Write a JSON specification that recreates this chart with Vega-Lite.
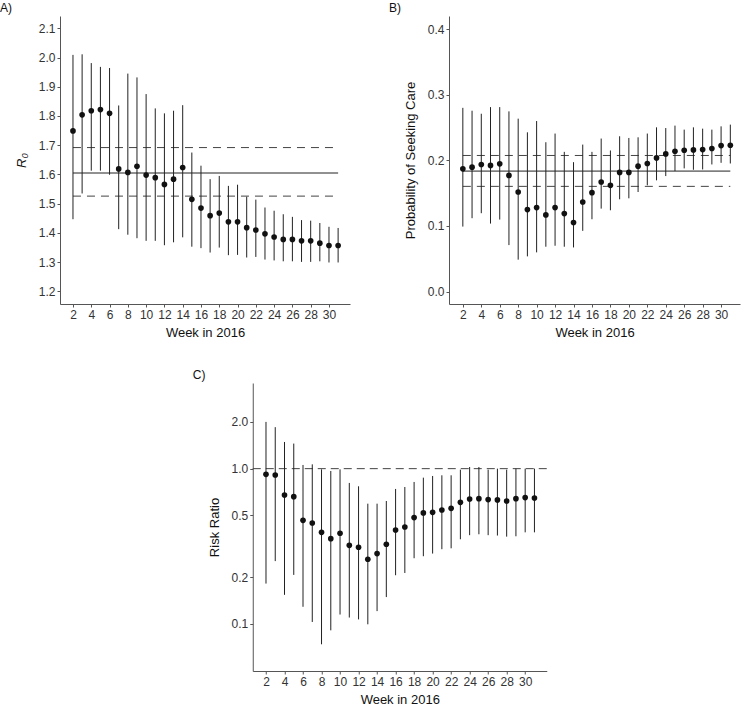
{
  "$schema": "https://vega.github.io/schema/vega-lite/v6.json",
  "padding": {"left": 0, "top": 2, "right": 2, "bottom": 2},
  "center": true,
  "spacing": 30,
  "datasets": {
    "a": [
      {"week": 2, "est": 1.749, "lo": 1.447, "hi": 2.009},
      {"week": 3, "est": 1.804, "lo": 1.535, "hi": 2.011},
      {"week": 4, "est": 1.818, "lo": 1.613, "hi": 1.981},
      {"week": 5, "est": 1.822, "lo": 1.613, "hi": 1.968},
      {"week": 6, "est": 1.809, "lo": 1.599, "hi": 1.964},
      {"week": 7, "est": 1.619, "lo": 1.413, "hi": 1.836},
      {"week": 8, "est": 1.607, "lo": 1.394, "hi": 1.945},
      {"week": 9, "est": 1.628, "lo": 1.382, "hi": 1.932},
      {"week": 10, "est": 1.598, "lo": 1.373, "hi": 1.875},
      {"week": 11, "est": 1.589, "lo": 1.373, "hi": 1.826},
      {"week": 12, "est": 1.566, "lo": 1.358, "hi": 1.809},
      {"week": 13, "est": 1.584, "lo": 1.368, "hi": 1.818},
      {"week": 14, "est": 1.624, "lo": 1.385, "hi": 1.837},
      {"week": 15, "est": 1.515, "lo": 1.353, "hi": 1.675},
      {"week": 16, "est": 1.485, "lo": 1.348, "hi": 1.630},
      {"week": 17, "est": 1.459, "lo": 1.333, "hi": 1.584},
      {"week": 18, "est": 1.468, "lo": 1.350, "hi": 1.595},
      {"week": 19, "est": 1.438, "lo": 1.324, "hi": 1.561},
      {"week": 20, "est": 1.438, "lo": 1.325, "hi": 1.565},
      {"week": 21, "est": 1.418, "lo": 1.316, "hi": 1.524},
      {"week": 22, "est": 1.410, "lo": 1.318, "hi": 1.514},
      {"week": 23, "est": 1.397, "lo": 1.309, "hi": 1.487},
      {"week": 24, "est": 1.386, "lo": 1.306, "hi": 1.476},
      {"week": 25, "est": 1.378, "lo": 1.303, "hi": 1.464},
      {"week": 26, "est": 1.378, "lo": 1.303, "hi": 1.455},
      {"week": 27, "est": 1.373, "lo": 1.301, "hi": 1.444},
      {"week": 28, "est": 1.373, "lo": 1.301, "hi": 1.442},
      {"week": 29, "est": 1.365, "lo": 1.303, "hi": 1.434},
      {"week": 30, "est": 1.357, "lo": 1.299, "hi": 1.421},
      {"week": 31, "est": 1.357, "lo": 1.299, "hi": 1.417}
    ],
    "aMean": [{"level": 1.605, "from": 2, "to": 31}],
    "aCI": [{"level": 1.692, "from": 2, "to": 31}, {"level": 1.526, "from": 2, "to": 31}],
    "b": [
      {"week": 2, "est": 0.187, "lo": 0.099, "hi": 0.280},
      {"week": 3, "est": 0.1896, "lo": 0.1118, "hi": 0.2756},
      {"week": 4, "est": 0.1937, "lo": 0.1194, "hi": 0.271},
      {"week": 5, "est": 0.1922, "lo": 0.1036, "hi": 0.2811},
      {"week": 6, "est": 0.1947, "lo": 0.1097, "hi": 0.2811},
      {"week": 7, "est": 0.177, "lo": 0.0708, "hi": 0.2746},
      {"week": 8, "est": 0.1517, "lo": 0.0486, "hi": 0.2635},
      {"week": 9, "est": 0.1249, "lo": 0.0536, "hi": 0.2427},
      {"week": 10, "est": 0.128, "lo": 0.0597, "hi": 0.2599},
      {"week": 11, "est": 0.1168, "lo": 0.0683, "hi": 0.2276},
      {"week": 12, "est": 0.128, "lo": 0.0698, "hi": 0.2408},
      {"week": 13, "est": 0.1188, "lo": 0.0683, "hi": 0.2129},
      {"week": 14, "est": 0.1052, "lo": 0.0672, "hi": 0.1972},
      {"week": 15, "est": 0.1365, "lo": 0.0925, "hi": 0.224},
      {"week": 16, "est": 0.1507, "lo": 0.1102, "hi": 0.2129},
      {"week": 17, "est": 0.1669, "lo": 0.1264, "hi": 0.2332},
      {"week": 18, "est": 0.1619, "lo": 0.1239, "hi": 0.215},
      {"week": 19, "est": 0.1816, "lo": 0.1406, "hi": 0.2367},
      {"week": 20, "est": 0.1816, "lo": 0.1421, "hi": 0.2341},
      {"week": 21, "est": 0.1911, "lo": 0.1517, "hi": 0.2351},
      {"week": 22, "est": 0.1952, "lo": 0.1619, "hi": 0.2408},
      {"week": 23, "est": 0.2037, "lo": 0.1695, "hi": 0.2503},
      {"week": 24, "est": 0.2098, "lo": 0.176, "hi": 0.2492},
      {"week": 25, "est": 0.2139, "lo": 0.1836, "hi": 0.2529},
      {"week": 26, "est": 0.2154, "lo": 0.1877, "hi": 0.2468},
      {"week": 27, "est": 0.2159, "lo": 0.1856, "hi": 0.2503},
      {"week": 28, "est": 0.2164, "lo": 0.1861, "hi": 0.2483},
      {"week": 29, "est": 0.218, "lo": 0.1937, "hi": 0.2468},
      {"week": 30, "est": 0.2225, "lo": 0.1962, "hi": 0.2518},
      {"week": 31, "est": 0.223, "lo": 0.1952, "hi": 0.2544}
    ],
    "bMean": [{"level": 0.1836, "from": 2, "to": 31}],
    "bCI": [{"level": 0.2074, "from": 2, "to": 31}, {"level": 0.1603, "from": 2, "to": 31}],
    "c": [
      {"week": 2, "est": 0.919, "lo": 0.182, "hi": 2.0},
      {"week": 3, "est": 0.910, "lo": 0.254, "hi": 1.85},
      {"week": 4, "est": 0.677, "lo": 0.154, "hi": 1.485},
      {"week": 5, "est": 0.660, "lo": 0.207, "hi": 1.45},
      {"week": 6, "est": 0.465, "lo": 0.129, "hi": 1.056},
      {"week": 7, "est": 0.447, "lo": 0.103, "hi": 1.066},
      {"week": 8, "est": 0.389, "lo": 0.074, "hi": 0.99},
      {"week": 9, "est": 0.354, "lo": 0.091, "hi": 0.966},
      {"week": 10, "est": 0.384, "lo": 0.115, "hi": 0.99},
      {"week": 11, "est": 0.321, "lo": 0.110, "hi": 0.809},
      {"week": 12, "est": 0.312, "lo": 0.107, "hi": 0.77},
      {"week": 13, "est": 0.261, "lo": 0.0995, "hi": 0.595},
      {"week": 14, "est": 0.284, "lo": 0.121, "hi": 0.595},
      {"week": 15, "est": 0.326, "lo": 0.149, "hi": 0.619},
      {"week": 16, "est": 0.403, "lo": 0.206, "hi": 0.74},
      {"week": 17, "est": 0.421, "lo": 0.213, "hi": 0.762},
      {"week": 18, "est": 0.484, "lo": 0.265, "hi": 0.821},
      {"week": 19, "est": 0.519, "lo": 0.273, "hi": 0.875},
      {"week": 20, "est": 0.523, "lo": 0.284, "hi": 0.897},
      {"week": 21, "est": 0.542, "lo": 0.303, "hi": 0.906},
      {"week": 22, "est": 0.555, "lo": 0.307, "hi": 0.906},
      {"week": 23, "est": 0.607, "lo": 0.351, "hi": 0.985},
      {"week": 24, "est": 0.638, "lo": 0.373, "hi": 1.025},
      {"week": 25, "est": 0.641, "lo": 0.378, "hi": 1.025},
      {"week": 26, "est": 0.632, "lo": 0.373, "hi": 0.985},
      {"week": 27, "est": 0.629, "lo": 0.371, "hi": 1.0},
      {"week": 28, "est": 0.619, "lo": 0.365, "hi": 0.985},
      {"week": 29, "est": 0.641, "lo": 0.367, "hi": 1.0},
      {"week": 30, "est": 0.651, "lo": 0.389, "hi": 1.0},
      {"week": 31, "est": 0.647, "lo": 0.389, "hi": 1.0}
    ],
    "cRef": [{"level": 1.0}]
  },
  "vconcat": [
    {
      "hconcat": [
        {
          "width": 290,
          "height": 288,
          "title": {"text": "A)", "anchor": "start", "frame": "group", "dx": -60, "fontSize": 12, "fontWeight": "normal", "offset": 1, "color": "#111"},
          "layer": [
            {
              "data": {"name": "aMean"},
              "mark": {"type": "rule", "color": "#222", "strokeWidth": 1},
              "encoding": {
                "x": {"field": "from", "type": "quantitative"},
                "x2": {"field": "to"},
                "y": {"field": "level", "type": "quantitative"}
              }
            },
            {
              "data": {"name": "aCI"},
              "mark": {"type": "rule", "color": "#444", "strokeWidth": 1, "strokeDash": [8, 6]},
              "encoding": {
                "x": {"field": "from", "type": "quantitative"},
                "x2": {"field": "to"},
                "y": {"field": "level", "type": "quantitative"}
              }
            },
            {
              "data": {"name": "a"},
              "mark": {"type": "rule", "color": "#222", "strokeWidth": 1},
              "encoding": {
                "x": {"field": "week", "type": "quantitative"},
                "y": {"field": "lo", "type": "quantitative"},
                "y2": {"field": "hi"}
              }
            },
            {
              "data": {"name": "a"},
              "mark": {"type": "circle", "color": "#111", "opacity": 1, "size": 32},
              "encoding": {
                "x": {"field": "week", "type": "quantitative", "scale": {"domain": [0.58, 32.3], "nice": false, "zero": false},
                  "axis": {"title": "Week in 2016", "format": "d", "tickCount": 100, "labelOverlap": false, "labelFlush": false, "values": [2,4,6,8,10,12,14,16,18,20,22,24,26,28,30]}},
                "y": {"field": "est", "type": "quantitative", "scale": {"domain": [1.157, 2.142], "nice": false, "zero": false},
                  "axis": {"title": "R₀", "titleFontStyle": "italic", "tickCount": 100, "labelOverlap": false, "labelFlush": false, "values": [1.2,1.3,1.4,1.5,1.6,1.7,1.8,1.9,2.0,2.1], "format": ".1f"}}
              }
            }
          ]
        },
        {
          "width": 291,
          "height": 288,
          "title": {"text": "B)", "anchor": "start", "frame": "group", "dx": -60, "fontSize": 12, "fontWeight": "normal", "offset": 1, "color": "#111"},
          "layer": [
            {
              "data": {"name": "bMean"},
              "mark": {"type": "rule", "color": "#222", "strokeWidth": 1},
              "encoding": {
                "x": {"field": "from", "type": "quantitative"},
                "x2": {"field": "to"},
                "y": {"field": "level", "type": "quantitative"}
              }
            },
            {
              "data": {"name": "bCI"},
              "mark": {"type": "rule", "color": "#444", "strokeWidth": 1, "strokeDash": [8, 6]},
              "encoding": {
                "x": {"field": "from", "type": "quantitative"},
                "x2": {"field": "to"},
                "y": {"field": "level", "type": "quantitative"}
              }
            },
            {
              "data": {"name": "b"},
              "mark": {"type": "rule", "color": "#222", "strokeWidth": 1},
              "encoding": {
                "x": {"field": "week", "type": "quantitative"},
                "y": {"field": "lo", "type": "quantitative"},
                "y2": {"field": "hi"}
              }
            },
            {
              "data": {"name": "b"},
              "mark": {"type": "circle", "color": "#111", "opacity": 1, "size": 32},
              "encoding": {
                "x": {"field": "week", "type": "quantitative", "scale": {"domain": [0.5, 32.05], "nice": false, "zero": false},
                  "axis": {"title": "Week in 2016", "format": "d", "tickCount": 100, "labelOverlap": false, "labelFlush": false, "values": [2,4,6,8,10,12,14,16,18,20,22,24,26,28,30]}},
                "y": {"field": "est", "type": "quantitative", "scale": {"domain": [-0.019, 0.42], "nice": false, "zero": false},
                  "axis": {"title": "Probability of Seeking Care", "tickCount": 100, "labelOverlap": false, "labelFlush": false, "values": [0, 0.1, 0.2, 0.3, 0.4], "format": ".1f"}}
              }
            }
          ]
        }
      ],
      "spacing": 39
    },
    {
      "width": 294,
      "height": 288,
      "title": {"text": "C)", "anchor": "start", "frame": "group", "dx": -60, "fontSize": 12, "fontWeight": "normal", "offset": 1, "color": "#111"},
      "layer": [
        {
          "data": {"name": "cRef"},
          "mark": {"type": "rule", "color": "#444", "strokeWidth": 1, "strokeDash": [8, 5]},
          "encoding": {
            "y": {"field": "level", "type": "quantitative"}
          }
        },
        {
          "data": {"name": "c"},
          "mark": {"type": "rule", "color": "#222", "strokeWidth": 1},
          "encoding": {
            "x": {"field": "week", "type": "quantitative"},
            "y": {"field": "lo", "type": "quantitative"},
            "y2": {"field": "hi"}
          }
        },
        {
          "data": {"name": "c"},
          "mark": {"type": "circle", "color": "#111", "opacity": 1, "size": 32},
          "encoding": {
            "x": {"field": "week", "type": "quantitative", "scale": {"domain": [0.57, 32.33], "nice": false, "zero": false},
              "axis": {"title": "Week in 2016", "format": "d", "tickCount": 100, "labelOverlap": false, "labelFlush": false, "values": [2,4,6,8,10,12,14,16,18,20,22,24,26,28,30]}},
            "y": {"field": "est", "type": "quantitative", "scale": {"type": "log", "domain": [0.0498, 3.56], "nice": false},
              "axis": {"title": "Risk Ratio", "tickCount": 100, "labelOverlap": false, "labelFlush": false, "values": [0.1, 0.2, 0.5, 1.0, 2.0], "format": ".1f"}}
          }
        }
      ]
    }
  ],
  "config": {
    "view": {"stroke": null},
    "font": "Liberation Sans",
    "axis": {
      "grid": false,
      "domainColor": "#555555",
      "domainWidth": 1,
      "tickColor": "#555555",
      "tickSize": 3,
      "labelOverlap": false,
      "labelFont": "Liberation Sans",
      "labelFontSize": 12,
      "labelColor": "#333333",
      "labelPadding": 2,
      "titleFont": "Liberation Sans",
      "titleFontSize": 13,
      "titleFontWeight": "normal",
      "titleColor": "#111111"
    },
    "axisY": {"titlePadding": 10},
    "axisX": {"titlePadding": 6}
  }
}
